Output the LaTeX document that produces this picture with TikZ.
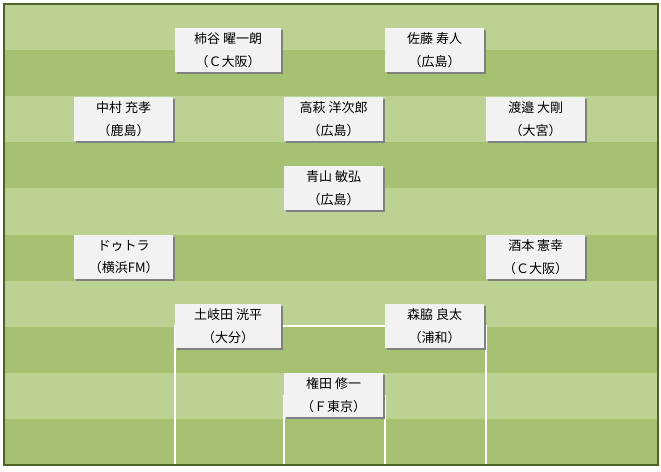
\documentclass[tikz,border=0pt]{standalone}
\usepackage{fontspec}
\newfontfamily\jpfont{Noto Sans CJK JP}
\usetikzlibrary{shadows}

\definecolor{pitchlight}{HTML}{BCD292}
\definecolor{pitchdark}{HTML}{A6C172}
\definecolor{pitchedge}{HTML}{4F6228}
\definecolor{cardgray}{HTML}{F2F2F2}
\definecolor{cardshadow}{HTML}{808080}

\tikzset{
	player/.style={anchor=north west, fill=cardgray, minimum width=99pt,
		minimum height=44pt, inner sep=0pt, align=center,
		font=\jpfont\fontsize{13}{22.5}\selectfont,
		general shadow={fill=cardshadow, shadow xshift=2pt, shadow yshift=-2pt}},
	wideplayer/.style={player, minimum width=106pt},
	pitchmark/.style={white, line width=1.8pt}
}

\begin{document}
\begin{tikzpicture}[x=1pt, y=-1pt]

	\useasboundingbox (0,0) rectangle (661,471);

	% pitch
	\fill[pitchlight] (4,4) rectangle (658,465);
	\foreach \i in {1,3,5,7,9}
		\fill[pitchdark] (4,{4+46.1*\i}) rectangle (658,{4+46.1*(\i+1)});
	\draw[pitchmark] (175,465) |- (486,326) -- (486,465);
	\draw[pitchmark] (284,465) |- (385,396) -- (385,465);
	\draw[pitchedge, line width=2pt] (4,4) rectangle (658,465);

	% players
	\node[wideplayer] (kakitani) at (175,28) {柿谷 曜一朗\\（Ｃ大阪）};
	\node[player] (sato) at (385,28) {佐藤 寿人\\（広島）};
	\node[player] (nakamura) at (74,97) {中村 充孝\\（鹿島）};
	\node[player] (takahagi) at (284,97) {高萩 洋次郎\\（広島）};
	\node[player] (watanabe) at (486,97) {渡邉 大剛\\（大宮）};
	\node[player] (aoyama) at (284,166) {青山 敏弘\\（広島）};
	\node[player] (dutra) at (74,235) {ドゥトラ\\（横浜FM）};
	\node[player] (sakamoto) at (486,235) {酒本 憲幸\\（Ｃ大阪）};
	\node[wideplayer] (tokita) at (175,304) {土岐田 洸平\\（大分）};
	\node[player] (moriwaki) at (385,304) {森脇 良太\\（浦和）};
	\node[player] (gonda) at (284,373) {権田 修一\\（Ｆ東京）};

\end{tikzpicture}
\end{document}
